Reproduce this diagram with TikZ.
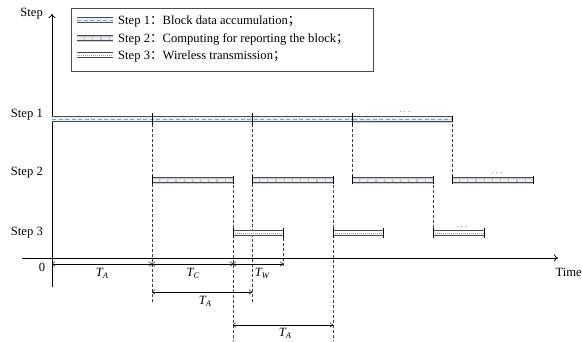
\documentclass[tikz,border=0pt]{standalone}
\usepackage{fontspec}
\setmainfont{Liberation Serif}
\newfontfamily\cjk{Noto Sans CJK SC}
\usetikzlibrary{arrows.meta}
\definecolor{barblue}{RGB}{130,160,200}
\definecolor{barfill}{RGB}{228,237,248}
\newcommand\barone[3]{%
  \fill[barfill] (#1,#3-2.5) rectangle (#2,#3+2.5);
  \draw[gray!60!black,line width=0.4pt] (#1,#3-2.5) -- (#2,#3-2.5) (#1,#3+2.5) -- (#2,#3+2.5);
  \draw[barblue,line width=0.7pt,dash pattern=on 4pt off 2.5pt] (#1,#3) -- (#2,#3);}
\newcommand\bartwo[3]{%
  \fill[gray!45] (#1,#3-2.5) rectangle (#2,#3+2.5);
  \draw[barfill,line width=3pt,dash pattern=on 7pt off 1.2pt] (#1,#3) -- (#2,#3);
  \draw[black!70,line width=0.45pt] (#1,#3-2.5) -- (#2,#3-2.5) (#1,#3+2.5) -- (#2,#3+2.5);
  \draw[barblue!50,line width=0.6pt] (#1,#3+3.3) -- (#2,#3+3.3);}
\newcommand\barthree[3]{%
  \fill[white] (#1,#3-2.5) rectangle (#2,#3+2.5);
  \draw[barblue,line width=0.8pt,dash pattern=on 1.2pt off 0.8pt] (#1,#3) -- (#2,#3);
  \draw[black!70,line width=0.45pt] (#1,#3-2.5) -- (#2,#3-2.5) (#1,#3+2.5) -- (#2,#3+2.5);}
\begin{document}
\begin{tikzpicture}[x=1pt,y=-1pt,
  lbl/.style={font=\fontsize{12.6}{14}\selectfont,inner sep=0pt},
  tlbl/.style={font=\fontsize{12.6}{14}\selectfont\itshape,inner sep=0pt},
  axisline/.style={line width=0.8pt,-{To[length=4pt,width=7pt]}},
  guide/.style={gray!50!black,line width=0.5pt,dash pattern=on 3pt off 2pt},
  dimline/.style={line width=0.5pt,{To[length=3pt,width=5pt]}-{To[length=3pt,width=5pt]}},
  tick/.style={line width=0.9pt},
  dots/.style={font=\fontsize{9}{9}\selectfont,inner sep=0pt}]
\useasboundingbox (0,0) rectangle (582,341);
\newcommand\TT[1]{T\raisebox{-0.35ex}{\fontsize{8.5}{9}\selectfont #1}}
% guides
\draw[guide] (152,119) -- (152,302);
\draw[guide] (252,119) -- (252,302);
\draw[guide] (233,180) -- (233,341);
\draw[guide] (283,233) -- (283,266);
\draw[guide] (333,180) -- (333,341);
\draw[guide] (352,119) -- (352,180);
\draw[guide] (452,119) -- (452,180);
\draw[guide] (433,180) -- (433,233);
% axes
\coordinate (yo) at (52,287);
\coordinate (yt) at (52,14);
\coordinate (xo) at (22,258);
\coordinate (xt) at (558,258);
\draw[axisline] (yo) -- (yt);
\draw[axisline] (xo) -- (xt);
\node[lbl,anchor=east] (ylab) at (43,14) {Step};
\node[lbl,anchor=east] (s1) at (43,115) {Step 1};
\node[lbl,anchor=east] (s2) at (43,173) {Step 2};
\node[lbl,anchor=east] (s3) at (43,233) {Step 3};
\node[lbl] (zero) at (42,267) {0};
\node[lbl,anchor=east] (time) at (582,272) {Time};
% step 1 bars
\barone{52}{352}{119}
\bartwo{352}{452}{119}
\barone{353}{451}{119}
\foreach \x in {152,252,352} \draw[tick] (\x,113) -- (\x,125);
\draw[tick] (452,116) -- (452,122);
\node[dots] (d1) at (405,112) {$\cdots$};
% step 2 bars
\foreach \a/\b in {152/233,252/333,352/433,452/533} {
  \bartwo{\a}{\b}{180}
  \draw[tick] (\a,175) -- (\a,184);
  \draw[tick] (\b,176) -- (\b,184);
}
\node[dots] (d2) at (497,173) {$\cdots$};
% step 3 bars
\foreach \a/\b in {233/283,333/383,433/484} {
  \barthree{\a}{\b}{233}
  \draw[tick] (\a,228) -- (\a,238);
  \draw[tick] (\b,228) -- (\b,238);
}
\node[dots] (d3) at (462,227) {$\cdots$};
% dimension arrows
\coordinate (a0) at (52,264);
\coordinate (a1) at (152,264);
\coordinate (a2) at (233,264);
\coordinate (a3) at (283,264);
\draw[dimline] (a0) -- (a1);
\draw[dimline] (a1) -- (a2);
\draw[dimline] (a2) -- (a3);
\node[tlbl] (ta1) at (102,273) {\TT{A}};
\node[tlbl] (tc) at (193,273) {\TT{C}};
\node[tlbl] (tw) at (262,273) {\TT{W}};
\coordinate (b1) at (152,292);
\coordinate (b2) at (252,292);
\draw[dimline] (b1) -- (b2);
\node[tlbl] (ta2) at (205,301) {\TT{A}};
\coordinate (c1) at (233,325);
\coordinate (c2) at (333,325);
\draw[dimline] (c1) -- (c2);
\node[tlbl] (ta3) at (285,333) {\TT{A}};
% legend
\node[draw=gray!60!black,line width=0.6pt,minimum width=302pt,minimum height=63pt,inner sep=0pt] (leg) at (222,39.5) {};
\barone{77}{113}{20}
\bartwo{77}{113}{38}
\barthree{77}{113}{55}
\node[lbl,anchor=west] (l1) at (118,21) {Step 1{\cjk ：}Block data accumulation{\cjk ；}};
\node[lbl,anchor=west] (l2) at (118,39) {Step 2{\cjk ：}Computing for reporting the block{\cjk ；}};
\node[lbl,anchor=west] (l3) at (118,56) {Step 3{\cjk ：}Wireless transmission{\cjk ；}};
\end{tikzpicture}
\end{document}
